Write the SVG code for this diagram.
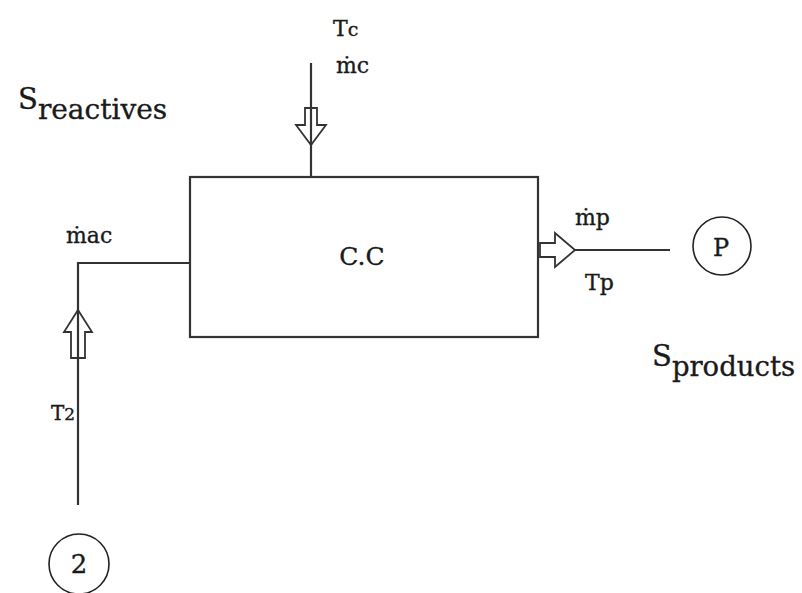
<svg xmlns="http://www.w3.org/2000/svg" width="802" height="593" viewBox="0 0 802 593">
<style>
.ln{stroke:#333;stroke-width:2.2;fill:none}
.ar{stroke:#333;stroke-width:1.8;fill:#fff}
.t{font-family:"DejaVu Serif","Liberation Serif",serif;fill:#1a1a1a;stroke:#1a1a1a;stroke-width:0.35}
.c{stroke:#222;stroke-width:1.6;fill:#fff}
</style>
<rect width="802" height="593" fill="#fff"/>
<g id="connectors">
<polyline class="ln" points="78,505 78,263 190,263"/>
<line class="ln" x1="311" y1="63" x2="311" y2="177"/>
<line class="ln" x1="575" y1="250" x2="670" y2="250"/>
<polygon class="ar" points="305,108 317,108 317,125 326,125 311,145 296,125 305,125"/>
<line class="ln" x1="311" y1="108" x2="311" y2="145"/>
<polygon class="ar" points="78,310 92,332 85,332 85,358 71,358 71,332 64,332"/>
<line class="ln" x1="78" y1="310" x2="78" y2="358"/>
<polygon class="ar" points="540,243 555,243 555,233 575,250 555,267 555,257 540,257"/>
</g>
<g id="cc">
<rect x="190" y="177" width="348" height="160" class="ln"/>
<text class="t" x="362" y="265" font-size="25" text-anchor="middle">C.C</text>
</g>
<g id="node2">
<circle class="c" cx="79" cy="564" r="30"/>
<text class="t" x="79" y="573" font-size="26" text-anchor="middle">2</text>
</g>
<g id="nodeP">
<circle class="c" cx="722" cy="246" r="29"/>
<text class="t" x="721" y="256" font-size="24" text-anchor="middle">P</text>
</g>
<g id="labels">
<text class="t" x="333" y="36" font-size="22">T<tspan font-size="19">c</tspan></text>
<text class="t" x="336" y="73" font-size="22">ṁc</text>
<text class="t" x="66" y="243" font-size="22">ṁac</text>
<text class="t" x="575" y="225" font-size="22">ṁp</text>
<text class="t" x="585" y="290" font-size="22">Tp</text>
<text class="t" x="51" y="420" font-size="20">T<tspan font-size="17">2</tspan></text>
<text class="t" x="18" y="109" font-size="29">S<tspan dy="10" font-size="28">reactives</tspan></text>
<text class="t" x="652" y="366" font-size="29">S<tspan dy="10" font-size="27.5">products</tspan></text>
</g>
</svg>
